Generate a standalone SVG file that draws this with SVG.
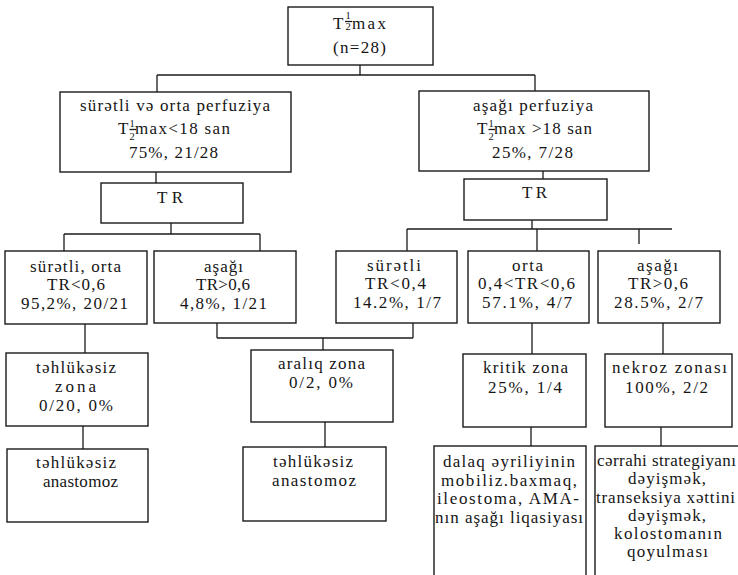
<svg xmlns="http://www.w3.org/2000/svg" width="738" height="575" viewBox="0 0 738 575">
<style>
rect{fill:#fff;stroke:#1a1a1a;stroke-width:1.4}
text{font-family:'Liberation Serif','Times New Roman',serif;font-size:17px;fill:#151515}
.c{text-anchor:middle}
.f{font-size:10.5px}
#connectors line,.bar{stroke:#1a1a1a;stroke-width:1.3}
</style>
<rect x="0" y="0" width="738" height="575" style="stroke:none"/>
<g id="connectors">
<line x1="360" y1="65" x2="360" y2="75"/>
<line x1="157" y1="75" x2="535" y2="75"/>
<line x1="157" y1="75" x2="157" y2="92"/>
<line x1="535" y1="75" x2="535" y2="91"/>
<line x1="156" y1="172" x2="156" y2="183"/>
<line x1="543" y1="171" x2="543" y2="179"/>
<line x1="171" y1="223" x2="171" y2="234"/>
<line x1="64" y1="234" x2="260" y2="234"/>
<line x1="64" y1="234" x2="64" y2="251"/>
<line x1="260" y1="234" x2="260" y2="251"/>
<line x1="532" y1="220" x2="532" y2="229"/>
<line x1="407" y1="229" x2="672" y2="229"/>
<line x1="407" y1="229" x2="407" y2="251"/>
<line x1="537" y1="229" x2="537" y2="251"/>
<line x1="639" y1="229" x2="639" y2="244"/>
<line x1="85" y1="324" x2="85" y2="353"/>
<line x1="217" y1="323" x2="217" y2="338"/>
<line x1="413" y1="323" x2="413" y2="338"/>
<line x1="217" y1="338" x2="413" y2="338"/>
<line x1="323" y1="338" x2="323" y2="350"/>
<line x1="532" y1="323" x2="532" y2="354"/>
<line x1="663" y1="323" x2="663" y2="354"/>
<line x1="83" y1="426" x2="83" y2="449"/>
<line x1="325" y1="422" x2="325" y2="447"/>
<line x1="531" y1="427" x2="531" y2="446"/>
<line x1="661" y1="427" x2="661" y2="446"/>
</g>
<g id="n-root">
<rect x="288" y="7" width="145" height="58"/>
<text x="333" y="29">T</text>
<text class="f" x="345.5" y="19">1</text>
<line class="bar" x1="345" y1="21.5" x2="352" y2="21.5"/>
<text class="f" x="345.5" y="30">2</text>
<text x="352" y="29" textLength="34">max</text>
<text class="c" x="359.5" y="53" textLength="53">(n=28)</text>
</g>
<g id="n-fast">
<rect x="60" y="92" width="231" height="80"/>
<text class="c" x="175" y="111" textLength="190">sürətli və orta perfuziya</text>
<text x="118" y="134">T</text>
<text class="f" x="129.5" y="127">1</text>
<line class="bar" x1="129.5" y1="129.5" x2="136" y2="129.5"/>
<text class="f" x="129.5" y="140">2</text>
<text x="135" y="134" textLength="95">max&lt;18 san</text>
<text class="c" x="173.5" y="158" textLength="89">75%, 21/28</text>
</g>
<g id="n-low">
<rect x="419" y="91" width="230" height="80"/>
<text class="c" x="533" y="111" textLength="120">aşağı perfuziya</text>
<text x="477" y="134">T</text>
<text class="f" x="488.5" y="127">1</text>
<line class="bar" x1="488.5" y1="129.5" x2="495" y2="129.5"/>
<text class="f" x="488.5" y="140">2</text>
<text x="494" y="134" textLength="98">max &gt;18 san</text>
<text class="c" x="532.5" y="158" textLength="81">25%, 7/28</text>
</g>
<g id="n-tr-left">
<rect x="101" y="183" width="142" height="40"/>
<text class="c" x="170" y="203" textLength="26">TR</text>
</g>
<g id="n-tr-right">
<rect x="464" y="179" width="143" height="41"/>
<text class="c" x="534.5" y="198" textLength="25">TR</text>
</g>
<g id="n-a">
<rect x="5" y="251" width="142" height="73"/>
<text class="c" x="75.5" y="272" textLength="91">sürətli, orta</text>
<text class="c" x="76" y="290" textLength="58">TR&lt;0,6</text>
<text class="c" x="74.5" y="309" textLength="107">95,2%, 20/21</text>
</g>
<g id="n-b">
<rect x="154" y="251" width="142" height="72"/>
<text class="c" x="223.5" y="272" textLength="39">aşağı</text>
<text class="c" x="223" y="290" textLength="54">TR&gt;0,6</text>
<text class="c" x="223.5" y="309" textLength="87">4,8%, 1/21</text>
</g>
<g id="n-c">
<rect x="336" y="251" width="121" height="72"/>
<text class="c" x="394" y="271" textLength="54">sürətli</text>
<text class="c" x="395.5" y="289" textLength="61">TR&lt;0,4</text>
<text class="c" x="397" y="308" textLength="88">14.2%, 1/7</text>
</g>
<g id="n-d">
<rect x="468" y="251" width="121" height="72"/>
<text class="c" x="527.5" y="271" textLength="31">orta</text>
<text class="c" x="526.5" y="289" textLength="97">0,4&lt;TR&lt;0,6</text>
<text class="c" x="527" y="308" textLength="90">57.1%, 4/7</text>
</g>
<g id="n-e">
<rect x="598" y="251" width="122" height="72"/>
<text class="c" x="657.5" y="271" textLength="41">aşağı</text>
<text class="c" x="658" y="289" textLength="60">TR&gt;0,6</text>
<text class="c" x="658.5" y="308" textLength="89">28.5%, 2/7</text>
</g>
<g id="n-f">
<rect x="6" y="353" width="142" height="73"/>
<text class="c" x="76" y="373" textLength="80">təhlükəsiz</text>
<text class="c" x="75.5" y="392" textLength="41">zona</text>
<text class="c" x="76" y="411" textLength="74">0/20, 0%</text>
</g>
<g id="n-g">
<rect x="251" y="350" width="142" height="72"/>
<text class="c" x="321.5" y="369" textLength="87">aralıq zona</text>
<text class="c" x="321" y="388" textLength="64">0/2, 0%</text>
</g>
<g id="n-h">
<rect x="463" y="354" width="123" height="73"/>
<text class="c" x="525.5" y="373" textLength="85">kritik zona</text>
<text class="c" x="525" y="393" textLength="74">25%, 1/4</text>
</g>
<g id="n-i">
<rect x="605" y="354" width="127" height="73"/>
<text class="c" x="669.5" y="373" textLength="115">nekroz zonası</text>
<text class="c" x="666.5" y="393" textLength="83">100%, 2/2</text>
</g>
<g id="n-j">
<rect x="7" y="449" width="141" height="73"/>
<text class="c" x="76" y="468" textLength="80">təhlükəsiz</text>
<text class="c" x="80.5" y="487" textLength="75">anastomoz</text>
</g>
<g id="n-k">
<rect x="243" y="447" width="143" height="74"/>
<text class="c" x="313" y="467" textLength="80">təhlükəsiz</text>
<text class="c" x="314" y="486" textLength="84">anastomoz</text>
</g>
<g id="n-l">
<rect x="434" y="446" width="152" height="150"/>
<text class="c" x="509" y="467" textLength="132">dalaq əyriliyinin</text>
<text class="c" x="509" y="486" textLength="136">mobiliz.baxmaq,</text>
<text class="c" x="508" y="504" textLength="142">ileostoma, AMA-</text>
<text class="c" x="509" y="523" textLength="148">nın aşağı liqasiyası</text>
</g>
<g id="n-m">
<rect x="595" y="446" width="170" height="150"/>
<text x="597" y="466" textLength="139">cərrahi strategiyanı</text>
<text class="c" x="667" y="484" textLength="78">dəyişmək,</text>
<text x="596" y="503" textLength="139">transeksiya xəttini</text>
<text class="c" x="667" y="521" textLength="78">dəyişmək,</text>
<text class="c" x="668" y="539" textLength="108">kolostomanın</text>
<text class="c" x="667.5" y="557" textLength="81">qoyulması</text>
</g>
</svg>
